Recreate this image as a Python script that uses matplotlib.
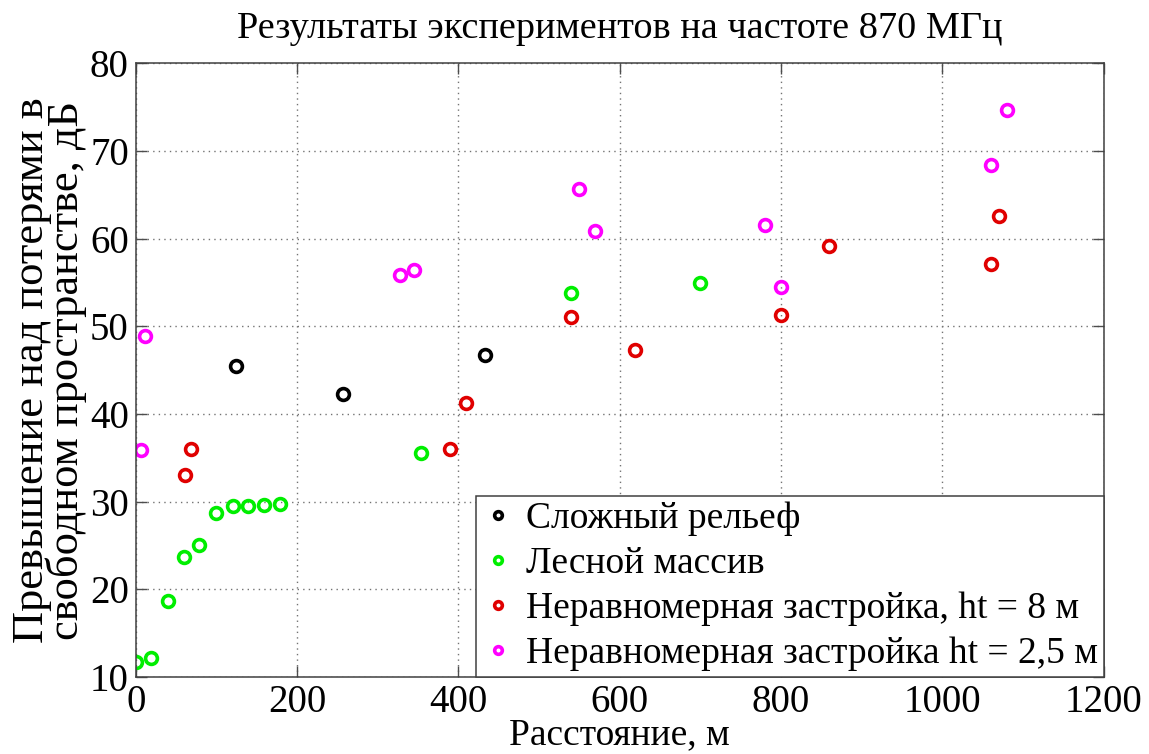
import matplotlib
matplotlib.use("Agg")
import matplotlib.pyplot as plt

plt.rcParams['font.family'] = ['Liberation Serif', 'DejaVu Serif']

# Сложный рельеф
relief_x = [124, 257, 433]
relief_y = [45.5, 42.3, 46.7]

# Лесной массив
forest_x = [0, 19, 40, 60, 79, 100, 120, 139, 159, 179, 354, 540, 700]
forest_y = [11.7, 12.1, 18.6, 23.7, 25.0, 28.7, 29.5, 29.5, 29.6, 29.7, 35.5, 53.8, 54.9]

# Неравномерная застройка, ht = 8 м
build8_x = [61, 68, 390, 410, 540, 619, 800, 859, 1060, 1070]
build8_y = [33.0, 36.0, 36.0, 41.2, 51.1, 47.3, 51.3, 59.2, 57.1, 62.6]

# Неравномерная застройка ht = 2,5 м
build25_x = [6, 11, 328, 345, 550, 569, 780, 800, 1060, 1080]
build25_y = [35.9, 48.9, 55.8, 56.4, 65.7, 60.9, 61.6, 54.5, 68.4, 74.7]

labels = ["Сложный рельеф", "Лесной массив",
          "Неравномерная застройка, ht = 8 м",
          "Неравномерная застройка ht = 2,5 м"]

fig = plt.figure(figsize=(11.49, 7.54), dpi=100)
ax = fig.add_axes([0.1181, 0.1025, 0.8425, 0.8133])

mk = dict(linestyle="none", marker="o", markersize=8.5, markeredgewidth=2.6,
          markerfacecolor="none")
ax.plot(relief_x, relief_y, color="k", label=labels[0], **mk)
ax.plot(forest_x, forest_y, color="#00ee00", label=labels[1], **mk)
ax.plot(build8_x, build8_y, color="#e00000", label=labels[2], **mk)
ax.plot(build25_x, build25_y, color="#ff00ff", label=labels[3], **mk)

ax.set_xlim(0, 1200)
ax.set_ylim(10, 80)
ax.set_xticks(range(0, 1201, 200))
ax.set_yticks(range(10, 81, 10))
ax.grid(True, linestyle=(0, (1, 3)), color="0.45", linewidth=1)
ax.tick_params(direction="in", length=8, width=1, labelsize=28,
               top=True, right=True, color="0.3", pad=5)
for s in ax.spines.values():
    s.set_color("0.25")
    s.set_linewidth(1.1)

ax.set_title("Результаты экспериментов на частоте 870 МГц", fontsize=27.5, pad=18)
ax.set_xlabel("Расстояние, м", fontsize=27, labelpad=-2)
ax.set_ylabel("Превышение над потерями в\nсвободном пространстве, дБ",
              fontsize=32, labelpad=2, linespacing=0.8)

leg = ax.legend(loc="lower right", bbox_to_anchor=(1, 0), borderaxespad=0,
                fontsize=27, markerscale=0.65, handlelength=0.88,
                handletextpad=0.3, labelspacing=0.28, borderpad=0.15,
                fancybox=False, framealpha=1, edgecolor="0.25")
leg.get_frame().set_linewidth(1.1)

fig.savefig("out.png", dpi=100)
